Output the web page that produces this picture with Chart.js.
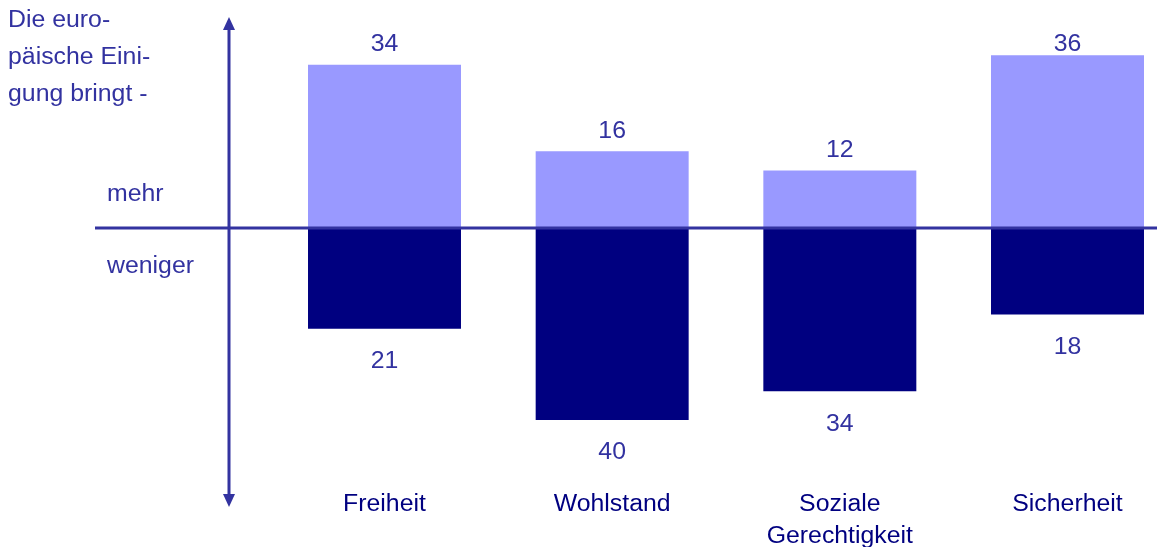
<!DOCTYPE html>
<html>
<head>
<meta charset="utf-8">
<title>Die europäische Einigung bringt</title>
<script src="https://cdn.jsdelivr.net/npm/chart.js@4/dist/chart.umd.min.js"></script>
<style>
    html, body { margin: 0; padding: 0; background: #ffffff; }
    #wrap { width: 1157px; height: 547px; position: relative; }
</style>
</head>
<body>
<div id="wrap"><canvas id="einigungChart"></canvas></div>
<script>
// Werte: Anteil "mehr" (oben) und "weniger" (unten) je Bereich
const categories = [['Freiheit'], ['Wohlstand'], ['Soziale', 'Gerechtigkeit'], ['Sicherheit']];
const mehrValues = [34, 16, 12, 36];
const wenigerValues = [21, 40, 34, 18];
const headerLines = ['Die euro-', 'päische Eini-', 'gung bringt -'];

const TEXT_COLOR = '#3232a0';
const LABEL_COLOR = '#000080';
const AXIS_COLOR = '#3333a0';
const FONT = '23px "Liberation Sans", Arial, sans-serif';
const TEXT_STRETCH = 1.08; // slightly wide lettering

// draw text stretched horizontally around its anchor point
function drawText(ctx, text, x, y) {
    ctx.save();
    ctx.translate(x, y + 2);
    ctx.scale(TEXT_STRETCH, 1);
    ctx.fillText(text, 0, 0);
    ctx.restore();
}

/**
 * Draw axes with arrows, the zero line and all text
 */
const annotationPlugin = {
    id: 'einigungAnnotations',
    afterDatasetsDraw(chart) {
        const ctx = chart.ctx;
        const x = chart.scales.x;
        const y = chart.scales.y;
        const zeroY = y.getPixelForValue(0);
        const axisX = 229;

        ctx.save();

        // vertical axis with arrow heads
        ctx.strokeStyle = AXIS_COLOR;
        ctx.fillStyle = AXIS_COLOR;
        ctx.lineWidth = 3;
        ctx.beginPath();
        ctx.moveTo(axisX, 26);
        ctx.lineTo(axisX, 498);
        ctx.stroke();
        ctx.beginPath();
        ctx.moveTo(axisX, 17);
        ctx.lineTo(axisX - 6, 30);
        ctx.lineTo(axisX + 6, 30);
        ctx.closePath();
        ctx.fill();
        ctx.beginPath();
        ctx.moveTo(axisX, 507);
        ctx.lineTo(axisX - 6, 494);
        ctx.lineTo(axisX + 6, 494);
        ctx.closePath();
        ctx.fill();

        // zero line over the bars
        ctx.beginPath();
        ctx.moveTo(95, zeroY);
        ctx.lineTo(chart.width, zeroY);
        ctx.stroke();

        ctx.font = FONT;
        ctx.textBaseline = 'middle';

        // header text left of the axis
        ctx.fillStyle = TEXT_COLOR;
        ctx.textAlign = 'left';
        headerLines.forEach((line, i) => drawText(ctx, line, 8, 19 + i * 37));
        drawText(ctx, 'mehr', 107, 193);
        drawText(ctx, 'weniger', 107, 265);

        // value labels
        ctx.textAlign = 'center';
        const upper = chart.getDatasetMeta(0).data;
        const lower = chart.getDatasetMeta(1).data;
        mehrValues.forEach((v, i) => {
            const top = upper[i].y;
            drawText(ctx, String(v), upper[i].x, Math.max(top - 22, 43));
        });
        wenigerValues.forEach((v, i) => {
            const bottom = lower[i].y;
            drawText(ctx, String(v), lower[i].x, bottom + 31);
        });

        // category labels
        ctx.fillStyle = LABEL_COLOR;
        categories.forEach((lines, i) => {
            const cx = x.getPixelForValue(i);
            lines.forEach((line, j) => drawText(ctx, line, cx, 503 + j * 32));
        });

        ctx.restore();
    }
};

const chartCanvas = document.getElementById('einigungChart');

const einigungChart = new Chart(chartCanvas, {
    type: 'bar',
    data: {
        labels: categories.map(c => c.join(' ')),
        datasets: [
            {
                label: 'mehr',
                data: mehrValues,
                backgroundColor: '#9999ff',
                borderWidth: 0,
                clip: false
            },
            {
                label: 'weniger',
                data: wenigerValues.map(v => -v),
                backgroundColor: '#000080',
                borderWidth: 0,
                clip: false
            }
        ]
    },
    options: {
        responsive: true,
        maintainAspectRatio: false,
        animation: false,
        events: [],
        layout: {
            padding: { left: 384.5, right: 89.5, top: 12, bottom: 103 }
        },
        datasets: {
            bar: { categoryPercentage: 1, barPercentage: 0.672 }
        },
        scales: {
            x: { display: false, stacked: true, offset: false },
            y: { display: false, stacked: true, min: -45, max: 45 }
        },
        plugins: {
            legend: { display: false },
            tooltip: { enabled: false }
        }
    },
    plugins: [annotationPlugin]
});
</script>
</body>
</html>
